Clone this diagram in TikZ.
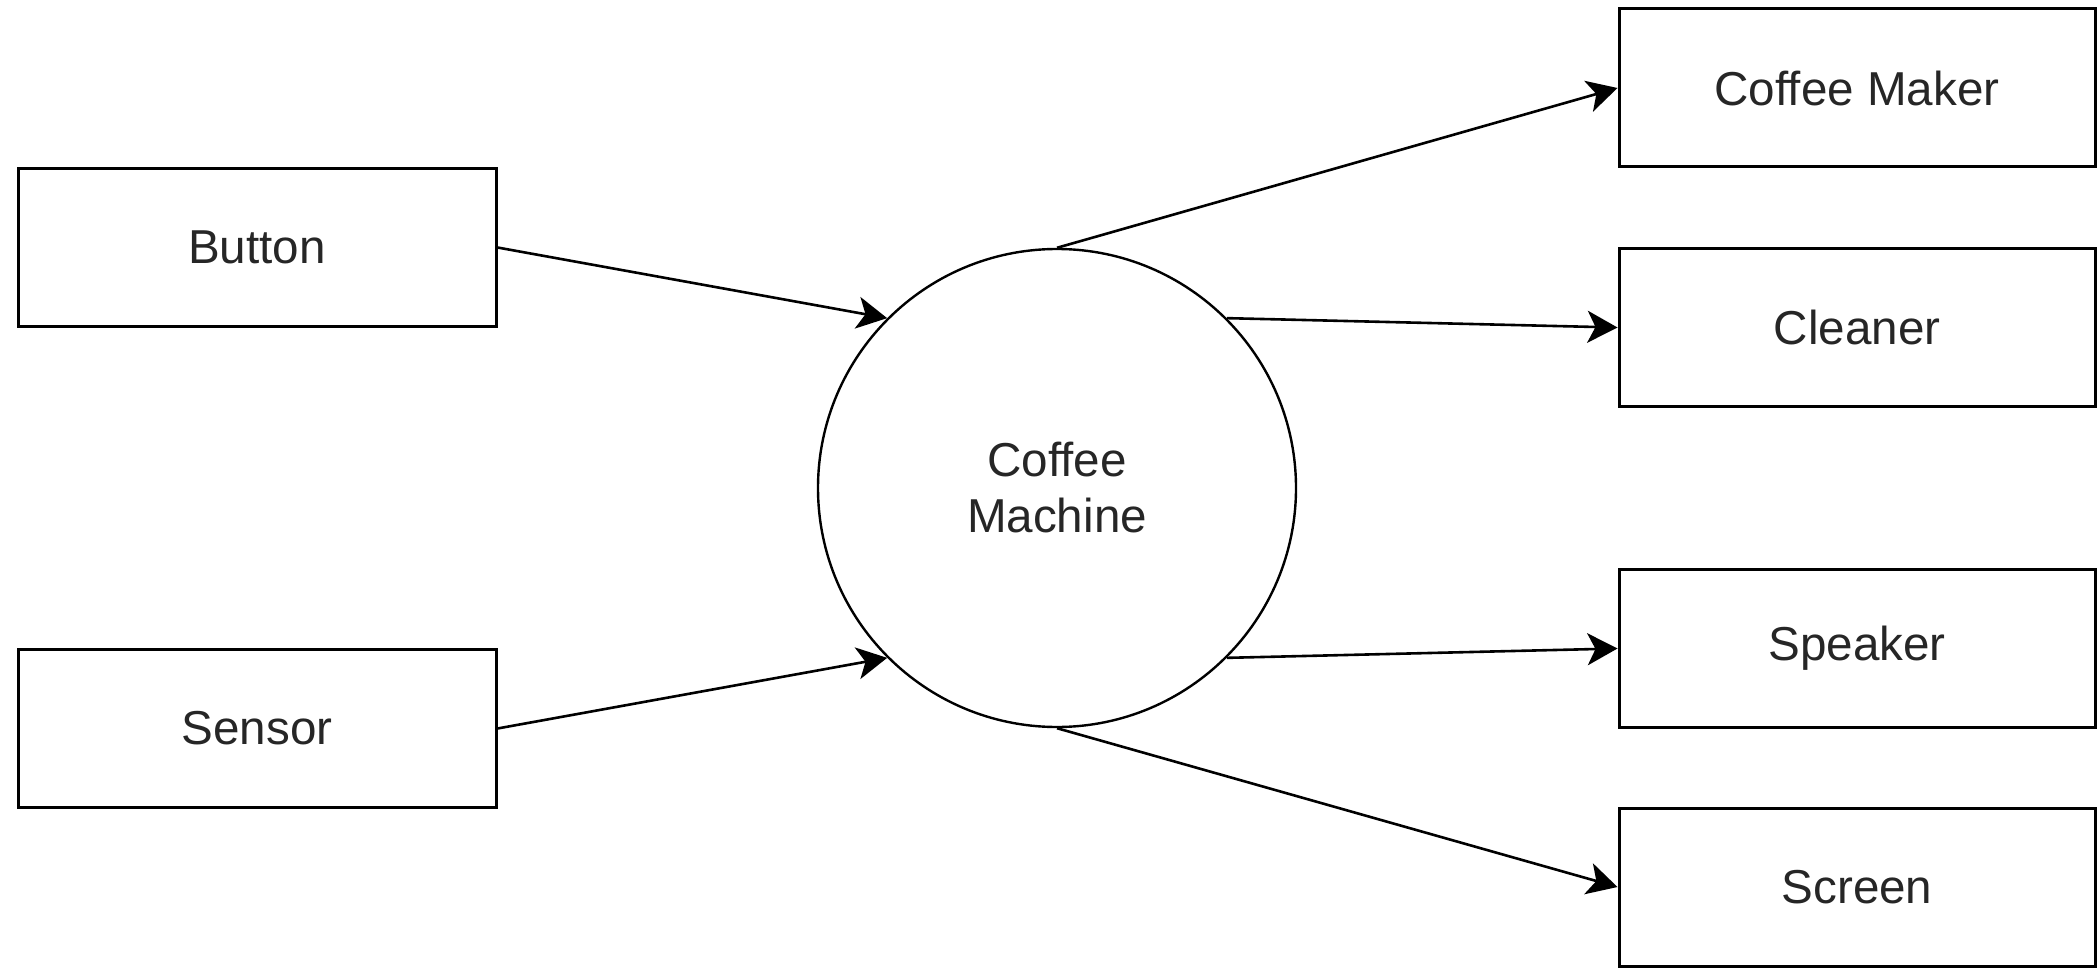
\documentclass[tikz,border=0pt]{standalone}
\usepackage{fontspec}
\setmainfont{Liberation Sans}
\usetikzlibrary{arrows.meta}
\begin{document}
\begin{tikzpicture}[x=0.5pt,y=-0.5pt,
  box/.style={draw=black, line width=1.5pt, minimum width=239pt, minimum height=79pt, inner sep=0pt,
    font=\fontsize{23.8}{28}\selectfont, text=black!85},
  proc/.style={draw=black, line width=1.2pt, circle, minimum size=239pt, inner sep=0pt, align=center,
    font=\fontsize{23.8}{28}\selectfont, text=black!85},
  flow/.style={draw=black, line width=1.3pt, -{Stealth[length=15pt,width=16pt,inset=4pt]}}]
\useasboundingbox (0,0) rectangle (2098,968);
\node[box] (button) at (257,247.5) {Button};
\node[box] (sensor) at (257,728.5) {Sensor};
\node[proc] (cm) at (1057,488) {Coffee\\Machine};
\node[box, minimum width=238pt] (maker) at (1857,88) {Coffee Maker};
\node[box, minimum width=238pt] (cleaner) at (1857,327.5) {Cleaner};
\node[box, minimum width=238pt] (speaker) at (1857,648.5) {Speaker};
\node[box, minimum width=238pt] (screen) at (1857,887) {Screen};
\draw[flow] (button.east) -- (cm.135);
\draw[flow] (sensor.east) -- (cm.225);
\draw[flow] (cm.north) -- (maker.west);
\draw[flow] (cm.45) -- (cleaner.west);
\draw[flow] (cm.-45) -- (speaker.west);
\draw[flow] (cm.south) -- (screen.west);
\end{tikzpicture}
\end{document}
